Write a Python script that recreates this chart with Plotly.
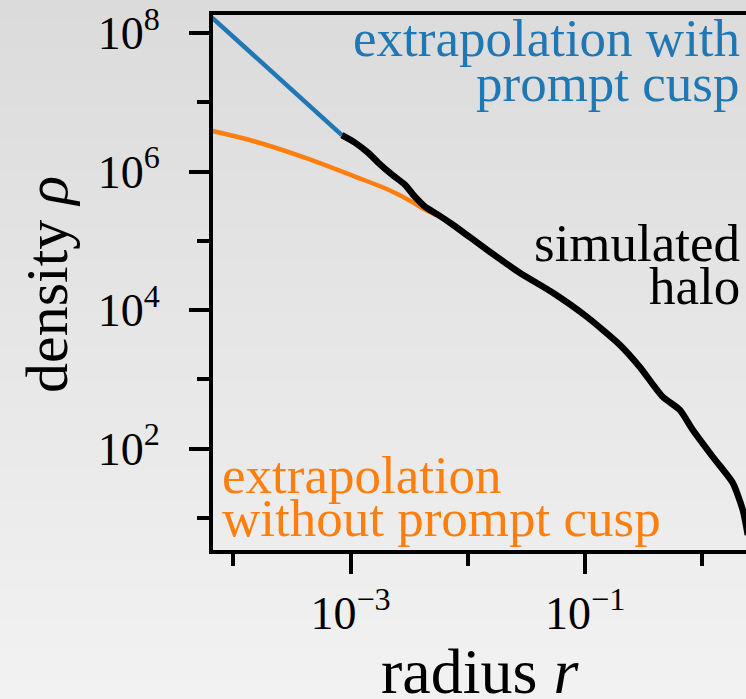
import plotly.graph_objects as go

# ---- data -------------------------------------------------------------
# simulated halo density profile
r_halo = [8.43e-4, 1.089e-3, 1.404e-3, 1.718e-3, 2.25e-3, 2.90e-3, 3.53e-3,
          4.30e-3, 5.55e-3, 7.45e-3, 1.452e-2, 2.77e-2, 5.31e-2, 0.1033,
          0.1977, 0.292, 0.459, 0.641, 0.828, 1.227, 1.816, 2.21, 2.44]
rho_halo = [3.35e6, 2.62e6, 1.88e6, 1.35e6, 9.06e5, 6.49e5, 4.36e5,
            3.12e5, 2.39e5, 1.71e5, 7.46e4, 3.47e4, 1.78e4, 8.03e3,
            3.16e3, 1.52e3, 561, 364, 187, 76.2, 32.1, 13.1, 5.7]

# inward extrapolation with a prompt cusp (rho ~ r^-1.5)
r_cusp = [6.0e-5, 8.43e-4]
rho_cusp = [1.93e8, 3.35e6]

# inward extrapolation without the prompt cusp
r_nocusp = [6.0e-5, 1.528e-4, 4.07e-4, 1.089e-3, 2.08e-3, 3.33e-3, 4.30e-3, 5.55e-3]
rho_nocusp = [4.0e6, 2.72e6, 1.59e6, 8.47e5, 5.50e5, 3.68e5, 2.83e5, 2.30e5]

# axis ticks
x_major = [1e-3, 1e-1]
x_major_text = ["10<sup>−3</sup>", "10<sup>−1</sup>"]
x_minor = [1e-4, 1e-2, 1.0]
y_major = [1e2, 1e4, 1e6, 1e8]
y_major_text = ["10<sup>2</sup>", "10<sup>4</sup>", "10<sup>6</sup>", "10<sup>8</sup>"]
y_minor = [1e1, 1e3, 1e5, 1e7]

# ---- layout geometry (pixels) ----------------------------------------
W, H = 746, 699
L, R, T, B = 213, 0, 15, 149
PW, PH = W - L - R, H - T - B

def px_x(px):
    return (px - L) / PW

def px_y(py):
    return (H - B - py) / PH

FONT = "Liberation Serif, Times New Roman, serif"
BLUE, ORANGE = "#1f77b4", "#ff7f0e"

fig = go.Figure()

fig.add_trace(go.Scatter(x=r_cusp, y=rho_cusp, mode="lines",
                         line=dict(color=BLUE, width=4.5), hoverinfo="skip"))
fig.add_trace(go.Scatter(x=r_nocusp, y=rho_nocusp, mode="lines",
                         line=dict(color=ORANGE, width=4.5, shape="spline"),
                         hoverinfo="skip"))
fig.add_trace(go.Scatter(x=r_halo, y=rho_halo, mode="lines",
                         line=dict(color="black", width=6.5, shape="spline",
                                   smoothing=0.6),
                         hoverinfo="skip"))

# soft vertical grey gradient behind everything
n_strips = 70
for i in range(n_strips):
    y0 = H * i / n_strips
    y1 = H * (i + 1) / n_strips
    c = int(round(219 + 23 * (i + 0.5) / n_strips))
    fig.add_shape(type="rect", xref="paper", yref="paper",
                  x0=px_x(0), x1=px_x(W), y0=px_y(y1 + 0.5), y1=px_y(y0 - 0.5),
                  fillcolor=f"rgb({c},{c},{c})", line=dict(width=0), layer="below")

def label(text, px, py, color, size, anchor):
    fig.add_annotation(text=text, xref="paper", yref="paper",
                       x=px_x(px), y=px_y(py), xanchor=anchor, yanchor="middle",
                       showarrow=False, font=dict(family=FONT, size=size, color=color))

ANN = 53
label("extrapolation with", 742, 55 - 17, BLUE, ANN, "right")
label("prompt cusp", 742, 100 - 17, BLUE, ANN, "right")
label("simulated", 742, 260 - 17, "black", ANN, "right")
label("halo", 742, 303 - 17, "black", ANN, "right")
label("extrapolation", 220, 492 - 17, ORANGE, ANN, "left")
label("without prompt cusp", 220, 535 - 17, ORANGE, ANN, "left")

# axis titles
fig.add_annotation(text="density <i>ρ</i>", xref="paper", yref="paper",
                   x=px_x(47), y=px_y(285), textangle=-90, showarrow=False,
                   xanchor="center", yanchor="middle",
                   font=dict(family=FONT, size=60, color="black"))
fig.add_annotation(text="radius <i>r</i>", xref="paper", yref="paper",
                   x=px_x(480), y=px_y(671), showarrow=False,
                   xanchor="center", yanchor="middle",
                   font=dict(family=FONT, size=64, color="black"))

axis_common = dict(
    type="log", showgrid=False, zeroline=False,
    showline=True, linewidth=4, linecolor="black",
    ticks="outside", ticklen=20, tickwidth=4, tickcolor="black",
    tickfont=dict(family=FONT, size=46, color="black"),
)

fig.update_xaxes(**axis_common, range=[-4.173, 0.372], mirror=True,
                 tickvals=x_major, ticktext=x_major_text, ticklabelstandoff=0,
                 minor=dict(tickvals=x_minor, ticks="outside", ticklen=12,
                            tickwidth=4, tickcolor="black"))
fig.update_yaxes(**axis_common, range=[0.538, 8.260], mirror=False,
                 tickvals=y_major, ticktext=y_major_text, ticklabelstandoff=20,
                 minor=dict(tickvals=y_minor, ticks="outside", ticklen=12,
                            tickwidth=4, tickcolor="black"))

fig.update_layout(
    template="none", width=W, height=H,
    margin=dict(l=L, r=R, t=T, b=B, pad=0),
    paper_bgcolor="rgb(230,230,230)", plot_bgcolor="rgba(0,0,0,0)",
    showlegend=False,
)

fig.write_html("out.html")
